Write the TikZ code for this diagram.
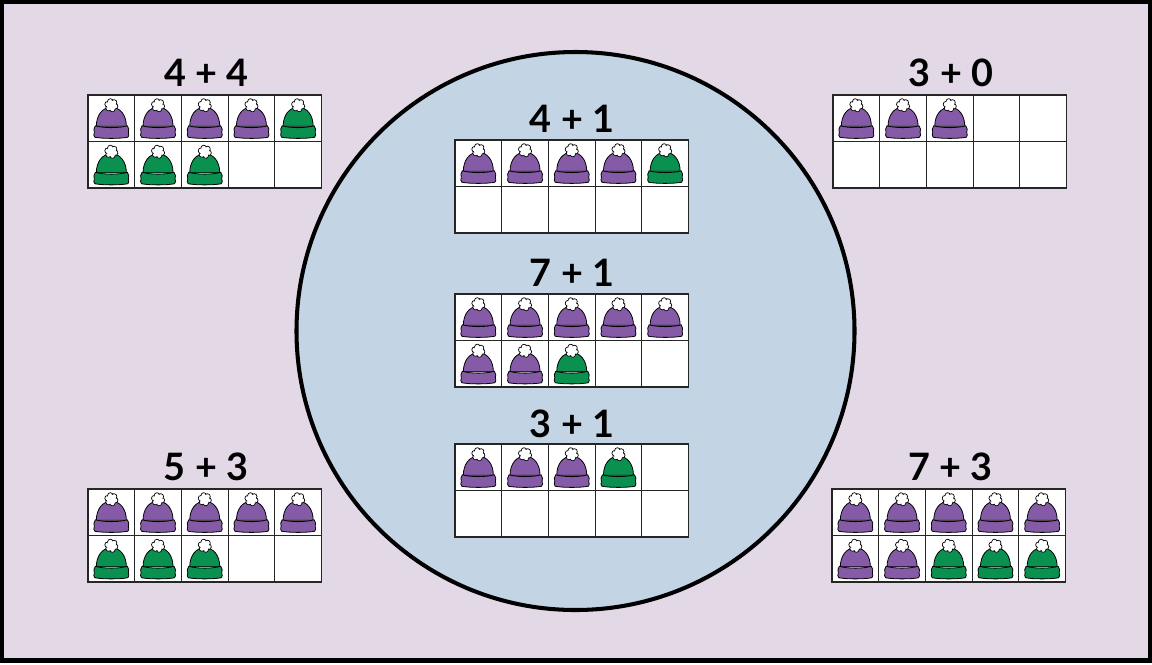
\documentclass[tikz,border=0pt]{standalone}
\usepackage{fontspec}
\setmainfont{Lato}
\usepackage{xcolor}
\usetikzlibrary{positioning}
\definecolor{bgmauve}{HTML}{E2D8E6}
\definecolor{bgblue}{HTML}{C3D4E5}
\definecolor{hatpurple}{HTML}{855BA8}
\definecolor{hatgreen}{HTML}{0A9150}

\begin{document}
\begin{tikzpicture}[
    x=0.02cm, y=-0.02cm,
    tenlabel/.style={font=\fontsize{21.5}{22}\selectfont\bfseries, inner sep=0pt, text=black},
    cellbox/.style={draw=black!85, fill=white, line width=0.65pt},
    hatline/.style={draw=black, line width=0.45pt, line join=round},
    pics/hat/.style={code={
        \draw[hatline, fill=#1] (-15,8) .. controls (-15,-3) and (-9,-11) .. (0,-11)
            .. controls (9,-11) and (15,-3) .. (15,8) -- cycle;
        \draw[hatline, fill=#1] (-16,7.5) .. controls (-8,10) and (8,10) .. (16,7.5)
            .. controls (18,10) and (17.5,12) .. (17,14)
            .. controls (18,16) and (17.5,18) .. (16.5,19)
            .. controls (8,20.5) and (-8,20.5) .. (-16.5,19)
            .. controls (-17.5,18) and (-18,16) .. (-17,14)
            .. controls (-17.5,12) and (-18,10) .. (-16,7.5) -- cycle;
        \foreach \a in {0,60,...,300}
            \draw[hatline, fill=white, line width=0.4pt] ({3.9*cos(\a+15)},{-13+3.9*sin(\a+15)}) circle (2.8);
        \fill[white] (0,-13) circle (4.8);
    }},
    pics/tenframe/.style 2 args={code={
        \foreach \n in {0,...,9}{
            \pgfmathtruncatemacro\cx{mod(\n,5)}
            \pgfmathtruncatemacro\cy{div(\n,5)}
            \draw[cellbox] ({\cx*46.7},{\cy*46.5}) rectangle ++(46.7,46.5);
            \pgfmathtruncatemacro\nhats{#1+#2}
            \ifnum\n<#1
                \pic at ({(\cx+0.5)*46.7},{(\cy+0.5)*46.5}) {hat=hatpurple};
            \else\ifnum\n<\nhats
                \pic at ({(\cx+0.5)*46.7},{(\cy+0.5)*46.5}) {hat=hatgreen};
            \fi\fi
        }
    }},
]
    \useasboundingbox (0,0) rectangle (1152,664);
    \draw[fill=bgmauve, draw=black, line width=2.3pt] (2,2) rectangle (1150,660.5);
    \draw[fill=bgblue, draw=black, line width=2.3pt] (575.5,331) circle (279);

    % outer frames
    \node[tenlabel] (lab44) at (206.5,72.5) {4 + 4};
    \pic at (88,95) {tenframe={4}{4}};
    \node[tenlabel] (lab30) at (951,72.5) {3 + 0};
    \pic at (833,95) {tenframe={3}{0}};
    \node[tenlabel] (lab53) at (206,467) {5 + 3};
    \pic at (88,489) {tenframe={5}{3}};
    \node[tenlabel] (lab73) at (950.5,467) {7 + 3};
    \pic at (832,489) {tenframe={7}{3}};

    % frames in the circle
    \node[tenlabel] (lab41) at (572,118.5) {4 + 1};
    \pic at (455,140) {tenframe={4}{1}};
    \node[tenlabel] (lab71) at (572,272.5) {7 + 1};
    \pic at (455,294) {tenframe={7}{1}};
    \node[tenlabel] (lab31) at (572,424) {3 + 1};
    \pic at (455,444) {tenframe={3}{1}};
\end{tikzpicture}
\end{document}
